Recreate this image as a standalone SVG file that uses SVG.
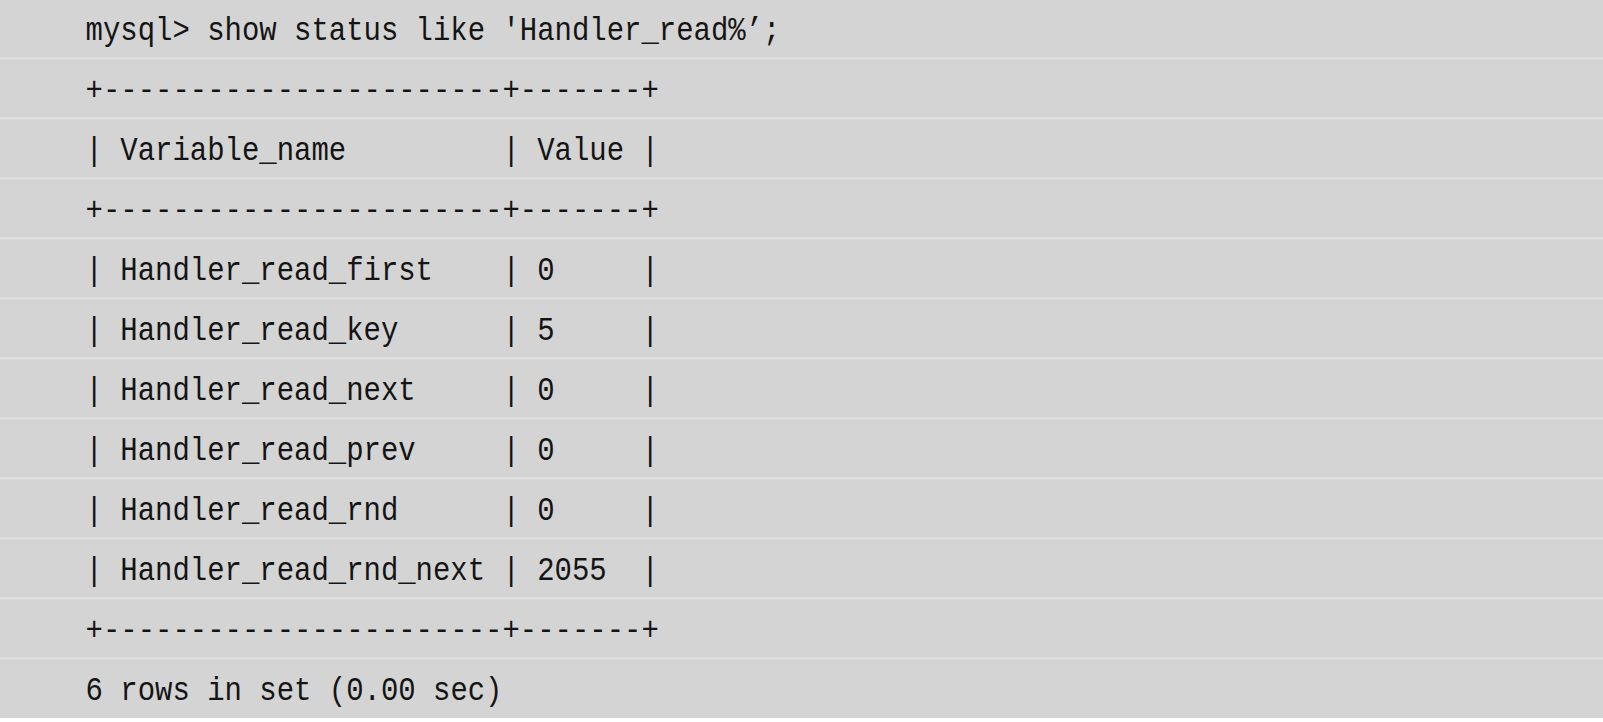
<svg xmlns="http://www.w3.org/2000/svg" width="1603" height="722" viewBox="0 0 1603 722">
  <style>
    .bg { fill: #d4d4d4; }
    .sep { fill: #e4e4e4; }
    .t { font-family: "Liberation Mono", "DejaVu Sans Mono", monospace; font-size: 34px; fill: #141414; white-space: pre; }
  </style>
  <rect x="0" y="0" width="1603" height="722" fill="#ffffff"/>
  <rect class="bg" x="0" y="0" width="1603" height="718"/>
  <g id="separators">
    <rect class="sep" x="0" y="57.5" width="1603" height="1.6"/>
    <rect class="sep" x="0" y="117.5" width="1603" height="1.6"/>
    <rect class="sep" x="0" y="177.5" width="1603" height="1.6"/>
    <rect class="sep" x="0" y="237.5" width="1603" height="1.6"/>
    <rect class="sep" x="0" y="297.5" width="1603" height="1.6"/>
    <rect class="sep" x="0" y="357.5" width="1603" height="1.6"/>
    <rect class="sep" x="0" y="417.5" width="1603" height="1.6"/>
    <rect class="sep" x="0" y="477.5" width="1603" height="1.6"/>
    <rect class="sep" x="0" y="537.5" width="1603" height="1.6"/>
    <rect class="sep" x="0" y="597.5" width="1603" height="1.6"/>
    <rect class="sep" x="0" y="657.5" width="1603" height="1.6"/>
  </g>
  <g id="row0"><text class="t" xml:space="preserve" x="85.6" y="39.5" textLength="694.8" lengthAdjust="spacingAndGlyphs">mysql&gt; show status like 'Handler_read%’;</text></g>
  <g id="row1"><text class="t" xml:space="preserve" x="85.6" y="99.5" textLength="573.2" lengthAdjust="spacingAndGlyphs">+-----------------------+-------+</text></g>
  <g id="row2"><text class="t" xml:space="preserve" x="85.6" y="159.5" textLength="573.2" lengthAdjust="spacingAndGlyphs">| Variable_name         | Value |</text></g>
  <g id="row3"><text class="t" xml:space="preserve" x="85.6" y="219.5" textLength="573.2" lengthAdjust="spacingAndGlyphs">+-----------------------+-------+</text></g>
  <g id="row4"><text class="t" xml:space="preserve" x="85.6" y="279.5" textLength="573.2" lengthAdjust="spacingAndGlyphs">| Handler_read_first    | 0     |</text></g>
  <g id="row5"><text class="t" xml:space="preserve" x="85.6" y="339.5" textLength="573.2" lengthAdjust="spacingAndGlyphs">| Handler_read_key      | 5     |</text></g>
  <g id="row6"><text class="t" xml:space="preserve" x="85.6" y="399.5" textLength="573.2" lengthAdjust="spacingAndGlyphs">| Handler_read_next     | 0     |</text></g>
  <g id="row7"><text class="t" xml:space="preserve" x="85.6" y="459.5" textLength="573.2" lengthAdjust="spacingAndGlyphs">| Handler_read_prev     | 0     |</text></g>
  <g id="row8"><text class="t" xml:space="preserve" x="85.6" y="519.5" textLength="573.2" lengthAdjust="spacingAndGlyphs">| Handler_read_rnd      | 0     |</text></g>
  <g id="row9"><text class="t" xml:space="preserve" x="85.6" y="579.5" textLength="573.2" lengthAdjust="spacingAndGlyphs">| Handler_read_rnd_next | 2055  |</text></g>
  <g id="row10"><text class="t" xml:space="preserve" x="85.6" y="639.5" textLength="573.2" lengthAdjust="spacingAndGlyphs">+-----------------------+-------+</text></g>
  <g id="row11"><text class="t" xml:space="preserve" x="85.6" y="699.5" textLength="416.9" lengthAdjust="spacingAndGlyphs">6 rows in set (0.00 sec)</text></g>
</svg>
